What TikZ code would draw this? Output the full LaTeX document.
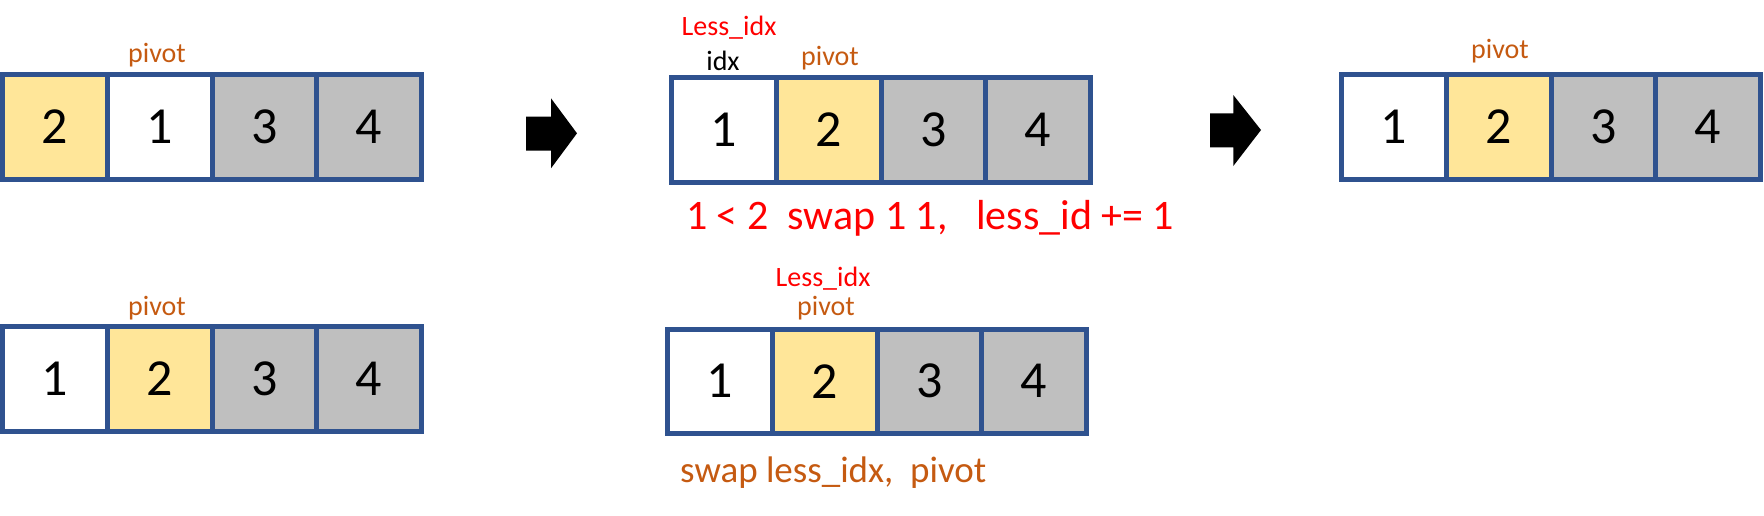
\documentclass[tikz,border=0pt]{standalone}
\usepackage{fontspec}
\setmainfont{Carlito}
\definecolor{cellblue}{HTML}{2F528F}
\definecolor{cellyellow}{HTML}{FFE699}
\definecolor{cellgray}{HTML}{BFBFBF}
\definecolor{lblorange}{HTML}{C55A11}
\definecolor{lblred}{HTML}{FF0000}
\tikzset{
  cell/.style={draw=cellblue, line width=5pt, minimum width=104.75pt, minimum height=104.5pt,
    inner sep=0pt, outer sep=0pt, font=\fontsize{52}{60}\selectfont},
  wcell/.style={cell, fill=white},
  ycell/.style={cell, fill=cellyellow},
  gcell/.style={cell, fill=cellgray},
  lbl/.style={anchor=base, inner sep=0pt, font=\fontsize{28}{32}\selectfont},
  pivotlbl/.style={lbl, text=lblorange},
  redlbl/.style={lbl, text=lblred},
  blacklbl/.style={lbl, text=black},
  bigred/.style={anchor=base west, inner sep=0pt, text=lblred, font=\fontsize{42}{48}\selectfont},
  bigorange/.style={anchor=base west, inner sep=0pt, text=lblorange, font=\fontsize{37}{44}\selectfont},
  blockarrow/.style={fill=black, draw=none}
}
\begin{document}
\begin{tikzpicture}[x=1pt, y=-1pt]
\useasboundingbox (0,0) rectangle (1764,515);
% Array 1 (top left): 2 1 3 4
\def\cw{104.75}
\node[ycell] (a1c1) at (2.5+0.5*\cw, 126.75) {2};
\node[wcell] (a1c2) at (2.5+1.5*\cw, 126.75) {1};
\node[gcell] (a1c3) at (2.5+2.5*\cw, 126.75) {3};
\node[gcell] (a1c4) at (2.5+3.5*\cw, 126.75) {4};
\node[pivotlbl] (a1p) at (157, 62) {pivot};
% Arrow 1
\fill[blockarrow] (526,116.7) -- (551,116.7) -- (551,98.3) -- (577,133.3) -- (551,168.3) -- (551,150.7) -- (526,150.7) -- cycle;
% Array 2 (top middle): 1 2 3 4
\node[wcell] (a2c1) at (671.5+0.5*\cw, 129.75) {1};
\node[ycell] (a2c2) at (671.5+1.5*\cw, 129.75) {2};
\node[gcell] (a2c3) at (671.5+2.5*\cw, 129.75) {3};
\node[gcell] (a2c4) at (671.5+3.5*\cw, 129.75) {4};
\node[redlbl] (a2l) at (729, 35) {Less\_idx};
\node[blacklbl] (a2i) at (723, 70) {idx};
\node[pivotlbl] (a2p) at (830, 65) {pivot};
\node[bigred] (a2t) at (686, 229) {1 < 2\ \ swap 1 1,\ \ \ less\_id += 1};
% Arrow 2
\fill[blockarrow] (1210,113.3) -- (1233.3,113.3) -- (1233.3,95) -- (1261,130) -- (1233.3,166) -- (1233.3,147.3) -- (1210,147.3) -- cycle;
% Array 3 (top right): 1 2 3 4
\node[wcell] (a3c1) at (1341.5+0.5*\cw, 126.75) {1};
\node[ycell] (a3c2) at (1341.5+1.5*\cw, 126.75) {2};
\node[gcell] (a3c3) at (1341.5+2.5*\cw, 126.75) {3};
\node[gcell] (a3c4) at (1341.5+3.5*\cw, 126.75) {4};
\node[pivotlbl] (a3p) at (1500, 58) {pivot};
% Array 4 (bottom left): 1 2 3 4
\node[wcell] (a4c1) at (2.5+0.5*\cw, 378.75) {1};
\node[ycell] (a4c2) at (2.5+1.5*\cw, 378.75) {2};
\node[gcell] (a4c3) at (2.5+2.5*\cw, 378.75) {3};
\node[gcell] (a4c4) at (2.5+3.5*\cw, 378.75) {4};
\node[pivotlbl] (a4p) at (157, 315) {pivot};
% Array 5 (bottom middle): 1 2 3 4
\node[wcell] (a5c1) at (667.5+0.5*\cw, 381.25) {1};
\node[ycell] (a5c2) at (667.5+1.5*\cw, 381.25) {2};
\node[gcell] (a5c3) at (667.5+2.5*\cw, 381.25) {3};
\node[gcell] (a5c4) at (667.5+3.5*\cw, 381.25) {4};
\node[redlbl] (a5l) at (823, 286) {Less\_idx};
\node[pivotlbl] (a5p) at (826, 315) {pivot};
\node[bigorange] (a5t) at (680, 482) {swap less\_idx,\ \ pivot};
\end{tikzpicture}
\end{document}
